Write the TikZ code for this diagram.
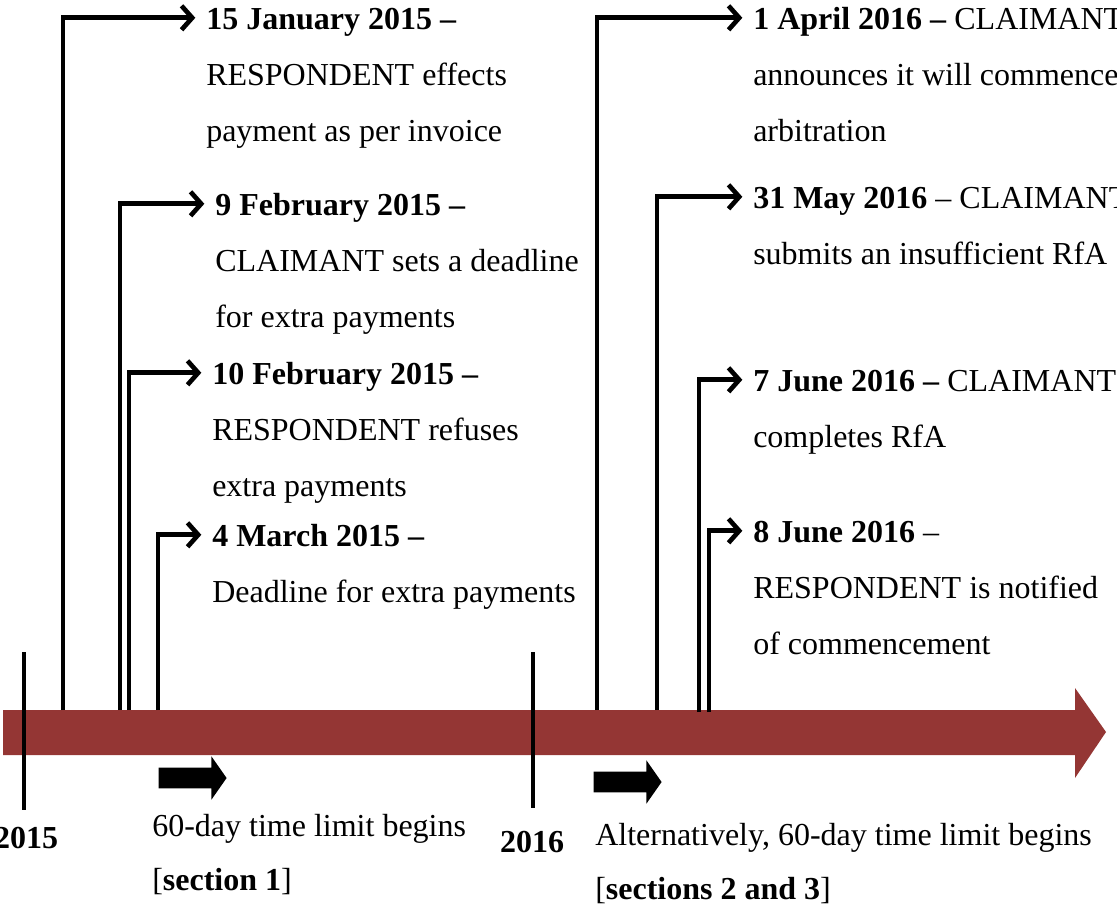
\documentclass[tikz,border=0pt]{standalone}
\usepackage{fontspec}
\setmainfont{Liberation Serif}
\usetikzlibrary{arrows.meta}
\usetikzlibrary{positioning}
\usetikzlibrary{shapes.arrows}
\definecolor{barred}{HTML}{943634}
\newcommand{\tlfont}{\fontsize{24}{42}\selectfont}

\tikzset{
	evt/.style={line width=3.5pt, -{Straight Barb[length=8pt,width=18pt]}, shorten >=8pt},
	dateline/.style={anchor=base west, inner sep=0pt, font=\tlfont},
	descr/.style={anchor=north west, inner sep=0pt, align=left, font=\tlfont},
	label/.style={anchor=base west, inner sep=0pt, font=\tlfont},
	yeartick/.style={line width=3pt},
	yearlabel/.style={inner sep=0pt, font=\tlfont\bfseries},
	blockarrow/.style={single arrow, fill=black, draw=none, inner sep=0pt,
		text height=7.5pt, text depth=7.5pt, text width=0pt,
		minimum height=51pt,
		single arrow head extend=8.5pt, single arrow tip angle=110}
}

\begin{document}
\begin{tikzpicture}[x=0.75pt,y=-0.75pt]
	\useasboundingbox (0,0) rectangle (1117,907);
	% timeline bar
	\fill[barred] (3,710) -- (1075,710) -- (1075,688) -- (1106,732)
	-- (1075,778) -- (1075,755) -- (3,755) -- cycle;
	
	% years
	\draw[yeartick] (24,652) -- (24,810);
	\draw[yeartick] (533,652) -- (533,808);
	\node[yearlabel] (y2015) at (26,838) {2015};
	\node[yearlabel] (y2016) at (532,842) {2016};
	
	% stems on the bar
	\path (63,710) coordinate(s1)
	(120,710) coordinate(s2)
	(129,710) coordinate(s3)
	(158,710) coordinate(s4)
	(597,710) coordinate(s5)
	(657,710) coordinate(s6)
	(699,712) coordinate(s7)
	(709,712) coordinate(s8);
	
	% 2015 events
	\node[dateline] (d1) at (206,29) {\strut\textbf{15 January 2015 --}};
	\node[descr] (e1) at (d1.south west) {\strut RESPONDENT effects\\payment as per invoice};
	\node[dateline] (d2) at (215,215) {\strut\textbf{9 February 2015 --}};
	\node[descr] (e2) at (d2.south west) {\strut CLAIMANT sets a deadline\\for extra payments};
	\node[dateline] (d3) at (212,384) {\strut\textbf{10 February 2015 --}};
	\node[descr] (e3) at (d3.south west) {\strut RESPONDENT refuses\\extra payments};
	\node[dateline] (d4) at (212,546) {\strut\textbf{4 March 2015 --}};
	\node[descr] (e4) at (d4.south west) {\strut Deadline for extra payments};
	
	% 2016 events
	\node[dateline] (d5) at (753,29) {\strut\textbf{1 April 2016 --} CLAIMANT};
	\node[descr] (e5) at (d5.south west) {\strut announces it will commence\\arbitration};
	\node[dateline] (d6) at (753,208) {\strut\textbf{31 May 2016} -- CLAIMANT};
	\node[descr] (e6) at (d6.south west) {\strut submits an insufficient RfA};
	\node[dateline] (d7) at (753,391) {\strut\textbf{7 June 2016 --} CLAIMANT};
	\node[descr] (e7) at (d7.south west) {\strut completes RfA};
	\node[dateline] (d8) at (753,542) {\strut\textbf{8 June 2016} --};
	\node[descr] (e8) at (d8.south west) {\strut RESPONDENT is notified\\of commencement};
	
	\draw[evt] (s1) |- (d1.west);
	\draw[evt] (s2) |- (d2.west);
	\draw[evt] (s3) |- (d3.west);
	\draw[evt] (s4) |- (d4.west);
	\draw[evt] (s5) |- (d5.west);
	\draw[evt] (s6) |- (d6.west);
	\draw[evt] (s7) |- (d7.west);
	\draw[evt] (s8) |- (d8.west);
	
	% time limits
	\node[blockarrow] (a1) at (189,778) {};
	\node[label] (l1) at (152,836) {60-day time limit begins};
	\node[label] (l1b) at (152,890) {[\textbf{section 1}]};
	\node[blockarrow] (a2) at (624,782) {};
	\node[label] (l2) at (595,845) {Alternatively, 60-day time limit begins};
	\node[label] (l2b) at (595,899) {[\textbf{sections 2 and 3}]};
	
\end{tikzpicture}
\end{document}
